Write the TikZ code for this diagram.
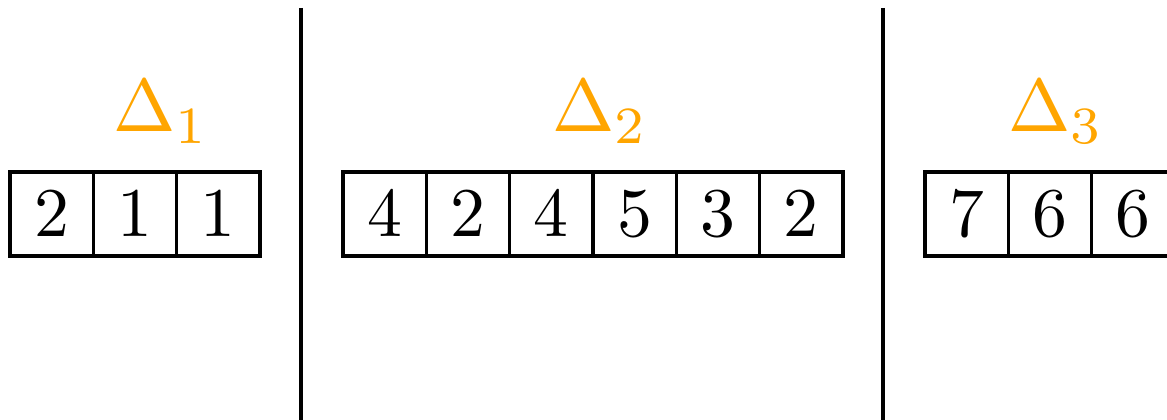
\documentclass[tikz,border=0pt]{standalone}
\usepackage{tikz}
\usepackage{graphicx}
\definecolor{deltaorange}{HTML}{FFA500}

% 10pt glyphs blown up, keeps the heavy strokes
\newcommand{\celltxt}[1]{\scalebox{2.38}{$#1$}}
\newcommand{\deltatxt}[1]{\scalebox{2.55}{$\Delta_{#1}$}}

\tikzset{
  cell/.style={draw,line width=1.1pt,minimum width=1cm,minimum height=1.01cm,inner sep=0pt},
  divider/.style={draw,line width=1.4pt},
  deltalbl/.style={text=deltaorange,anchor=base,inner sep=0pt}
}

\begin{document}
\begin{tikzpicture}[x=0.012cm,y=-0.012cm]
\clip (0,0) rectangle (1167,420);
% dividers between the blocks
\coordinate (top1) at (301,8);
\coordinate (bot1) at (301,425);
\coordinate (top2) at (883,8);
\coordinate (bot2) at (883,425);
\draw[divider] (top1) -- (bot1);
\draw[divider] (top2) -- (bot2);
% block labels
\node[deltalbl] (lab1) at (161,132) {\deltatxt{1}};
\node[deltalbl] (lab2) at (600,132) {\deltatxt{2}};
\node[deltalbl] (lab3) at (1056,132) {\deltatxt{3}};
% the three arrays
\foreach \v [count=\i from 0] in {2,1,1}
  \node[cell] (a\i) at ({51.67+83.33*\i},214) {\celltxt{\v}};
\foreach \v [count=\i from 0] in {4,2,4,5,3,2}
  \node[cell] (b\i) at ({384.67+83.33*\i},214) {\celltxt{\v}};
\foreach \v [count=\i from 0] in {7,6,6}
  \node[cell] (c\i) at ({966.67+83.33*\i},214) {\celltxt{\v}};
\end{tikzpicture}
\end{document}
